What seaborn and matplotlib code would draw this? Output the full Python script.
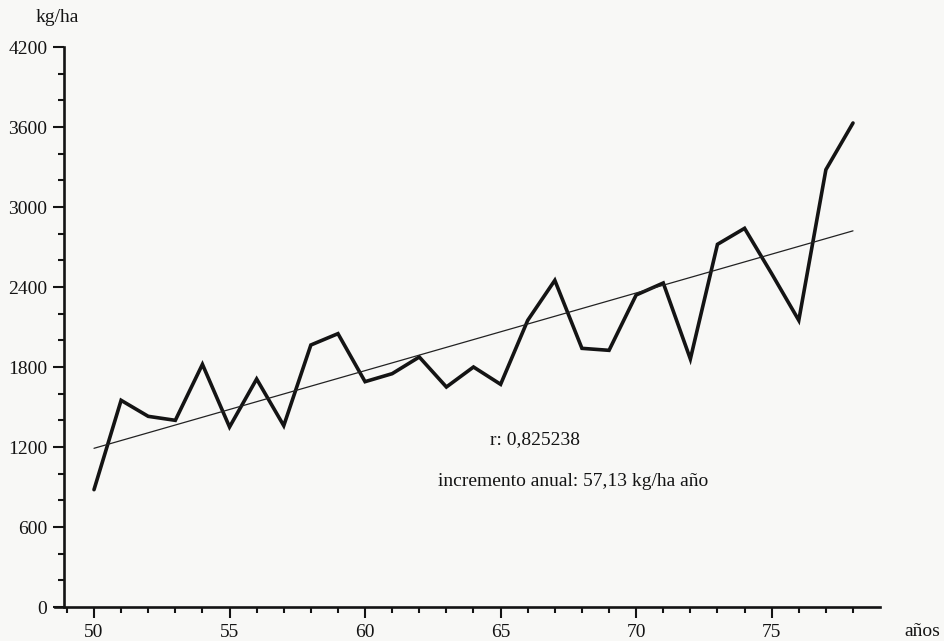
import numpy as np
import pandas as pd
import matplotlib
matplotlib.use("Agg")
import matplotlib.pyplot as plt
from matplotlib.ticker import MultipleLocator
import seaborn as sns

# Data
years = [50, 51, 52, 53, 54, 55, 56, 57, 58, 59, 60, 61, 62, 63, 64,
         65, 66, 67, 68, 69, 70, 71, 72, 73, 74, 75, 76, 77, 78]
yields = [880, 1550, 1430, 1400, 1820, 1350, 1710, 1360, 1965, 2050, 1690,
          1750, 1875, 1650, 1800, 1670, 2150, 2450, 1940, 1925, 2340, 2430,
          1860, 2720, 2840, 2500, 2150, 3280, 3630]
y_ticks = [0, 600, 1200, 1800, 2400, 3000, 3600, 4200]
x_ticks = [50, 55, 60, 65, 70, 75]
r_text = "r: 0,825238"
inc_text = "incremento anual: 57,13 kg/ha año"
y_label = "kg/ha"
x_label = "años"

df = pd.DataFrame({"year": years, "yield": yields})

sns.set_theme(style="ticks")
plt.rcParams["font.family"] = ["Liberation Serif", "DejaVu Serif"]

W, H = 945, 641
fig = plt.figure(figsize=(W / 100, H / 100), dpi=100)
bg = "#f8f8f6"
fig.patch.set_facecolor(bg)
ink = "#141414"
fs = 14

left_px, right_px, bottom_px, top_px = 55, 880, 607, 47
ax = fig.add_axes([left_px / W, 1 - bottom_px / H,
                   (right_px - left_px) / W, (bottom_px - top_px) / H])
ax.set_facecolor(bg)

px_per_year = (853 - 94) / 28.0
x_left = 50 - (94 - left_px) / px_per_year
x_right = 78 + (right_px - 853) / px_per_year
x_axis = 50 - (94 - 64) / px_per_year
ax.set_xlim(x_left, x_right)
ax.set_ylim(0, 4200)

sns.lineplot(data=df, x="year", y="yield", ax=ax, color=ink,
             linewidth=2.6, solid_joinstyle="miter")
sns.regplot(data=df, x="year", y="yield", ax=ax, scatter=False, ci=None,
            line_kws={"color": "#222222", "linewidth": 0.9})

for s in ["top", "right"]:
    ax.spines[s].set_visible(False)
ax.spines["left"].set_position(("data", x_axis))
ax.spines["left"].set_linewidth(1.9)
ax.spines["bottom"].set_linewidth(1.9)
ax.spines["left"].set_color(ink)
ax.spines["bottom"].set_color(ink)
ax.spines["left"].set_bounds(0, 4200)

ax.set_yticks(y_ticks)
ax.yaxis.set_minor_locator(MultipleLocator(200))
ax.set_xticks(x_ticks)
ax.xaxis.set_minor_locator(MultipleLocator(1))
ax.tick_params(axis="both", which="major", direction="out", length=8,
               width=1.5, colors=ink, labelsize=fs, pad=4)
ax.tick_params(axis="both", which="minor", direction="out", length=4.5,
               width=1.5, colors=ink)
ax.tick_params(axis="x", which="major", pad=4)

ax.set_xlabel("")
ax.set_ylabel("")
fig.text(922 / W, 1 - 632 / H, x_label, ha="center", va="center",
         fontsize=fs, color=ink)
fig.text(57 / W, 1 - 17 / H, y_label, ha="center", va="center",
         fontsize=fs, color=ink)

fig.text(535 / W, 1 - 440 / H, r_text, ha="center", va="center",
         fontsize=fs, color=ink)
fig.text(573 / W, 1 - 481 / H, inc_text, ha="center", va="center",
         fontsize=fs, color=ink)

fig.savefig("out.png", dpi=100, facecolor=bg)
